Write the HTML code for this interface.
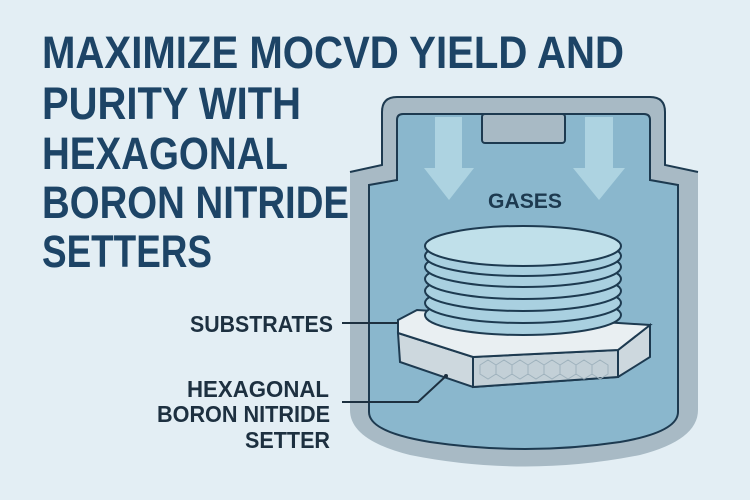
<!DOCTYPE html>
<html><head><style>
body{margin:0;width:750px;height:500px;background:#e3eef4;overflow:hidden}
svg{display:block}
</style></head><body>
<svg width="750" height="500" viewBox="0 0 750 500" xmlns="http://www.w3.org/2000/svg">
<rect width="750" height="500" fill="#e3eef4"/>
<!-- outer vessel -->
<path d="M350,172 L382,165 L382,112 Q382,97 397,97 L650,97 Q665,97 665,112 L665,165 L698,172 L698,410 Q698,440 640,455 Q525,478 410,455 Q350,440 350,410 Z" fill="#a8bac5"/>
<path d="M350,172 L382,165 L382,112 Q382,97 397,97 L650,97 Q665,97 665,112 L665,165 L698,172" fill="none" stroke="#1d3a50" stroke-width="2"/>
<!-- inner -->
<path d="M369,185 L397,180 L397,120 Q397,114 403,114 L644,114 Q650,114 650,120 L650,180 L678,185 L678,412 Q678,432 620,442 Q525,456 430,442 Q369,432 369,412 Z" fill="#8ab7cd" stroke="#1d3a50" stroke-width="2"/>
<rect x="482" y="114" width="83" height="29" rx="3" fill="#a8bac5" stroke="#1d3a50" stroke-width="2"/>
<!-- arrows -->
<path d="M435,117 L462,117 L462,168 L474,168 L449,200 L424,168 L435,168 Z" fill="#b3d8e4" opacity="0.85"/>
<path d="M585,117 L613,117 L613,168 L625,168 L599,200 L573,168 L585,168 Z" fill="#b3d8e4" opacity="0.85"/>
<text x="525" y="208" text-anchor="middle" font-family="Liberation Sans, sans-serif" font-weight="bold" font-size="21" textLength="74" lengthAdjust="spacingAndGlyphs" fill="#1d3a50">GASES</text>
<!-- setter -->
<path d="M398,333 L473,357 L618,350 L650,325 L650,357 L618,377 L473,387 L400,362 Z" fill="#cdd8de" stroke="#1d3a50" stroke-width="2"/>
<path d="M473,357 L618,350 L618,377 L473,387 Z" fill="#c3d0d7" stroke="#1d3a50" stroke-width="2"/>
<path d="M398,320 L417,310 L650,325 L618,350 L473,357 L398,333 Z" fill="#e9eff2" stroke="#1d3a50" stroke-width="2"/>
<g fill="none" stroke="#9fb2bd" stroke-width="1">
<path d="M480,365 l8,-5 l8,5 l0,9 l-8,5 l-8,-5z M496,365 l8,-5 l8,5 l0,9 l-8,5 l-8,-5z M512,365 l8,-5 l8,5 l0,9 l-8,5 l-8,-5z M528,365 l8,-5 l8,5 l0,9 l-8,5 l-8,-5z M544,365 l8,-5 l8,5 l0,9 l-8,5 l-8,-5z M560,365 l8,-5 l8,5 l0,9 l-8,5 l-8,-5z M576,365 l8,-5 l8,5 l0,9 l-8,5 l-8,-5z M592,365 l8,-5 l8,5 l0,9 l-8,5 l-8,-5z"/>
</g>
<!-- discs -->
<g stroke="#1d3a50" stroke-width="2" fill="#a9d0e0">
<ellipse cx="523" cy="315" rx="98" ry="20"/>
<ellipse cx="523" cy="303" rx="98" ry="20"/>
<ellipse cx="523" cy="291" rx="98" ry="20"/>
<ellipse cx="523" cy="279" rx="98" ry="20"/>
<ellipse cx="523" cy="267" rx="98" ry="20"/>
<ellipse cx="523" cy="256" rx="98" ry="20"/>
<ellipse cx="523" cy="246" rx="98" ry="20" fill="#c0e0ea"/>
</g>
<!-- title -->
<g font-family="Liberation Sans, sans-serif" font-weight="bold" font-size="45" fill="#1d4466" lengthAdjust="spacingAndGlyphs">
<text x="42" y="68" textLength="582" lengthAdjust="spacingAndGlyphs">MAXIMIZE MOCVD YIELD AND</text>
<text x="42" y="119" textLength="259" lengthAdjust="spacingAndGlyphs">PURITY WITH</text>
<text x="42" y="169" textLength="246" lengthAdjust="spacingAndGlyphs">HEXAGONAL</text>
<text x="42" y="218" textLength="307" lengthAdjust="spacingAndGlyphs">BORON NITRIDE</text>
<text x="42" y="267" textLength="170" lengthAdjust="spacingAndGlyphs">SETTERS</text>
</g>
<g font-family="Liberation Sans, sans-serif" font-weight="bold" font-size="23" fill="#1d3040">
<text x="190" y="332" textLength="143" lengthAdjust="spacingAndGlyphs">SUBSTRATES</text>
<text x="187" y="397" textLength="142" lengthAdjust="spacingAndGlyphs">HEXAGONAL</text>
<text x="157" y="422" textLength="173" lengthAdjust="spacingAndGlyphs">BORON NITRIDE</text>
<text x="245" y="448" textLength="85" lengthAdjust="spacingAndGlyphs">SETTER</text>
</g>
<path d="M342,323 L398,323" stroke="#1d3040" stroke-width="2" fill="none"/>
<path d="M342,402 L418,402 L446,376" stroke="#1d3040" stroke-width="2" fill="none"/>
<circle cx="446" cy="376" r="2" fill="#1d3040"/>
</svg>
</body></html>
